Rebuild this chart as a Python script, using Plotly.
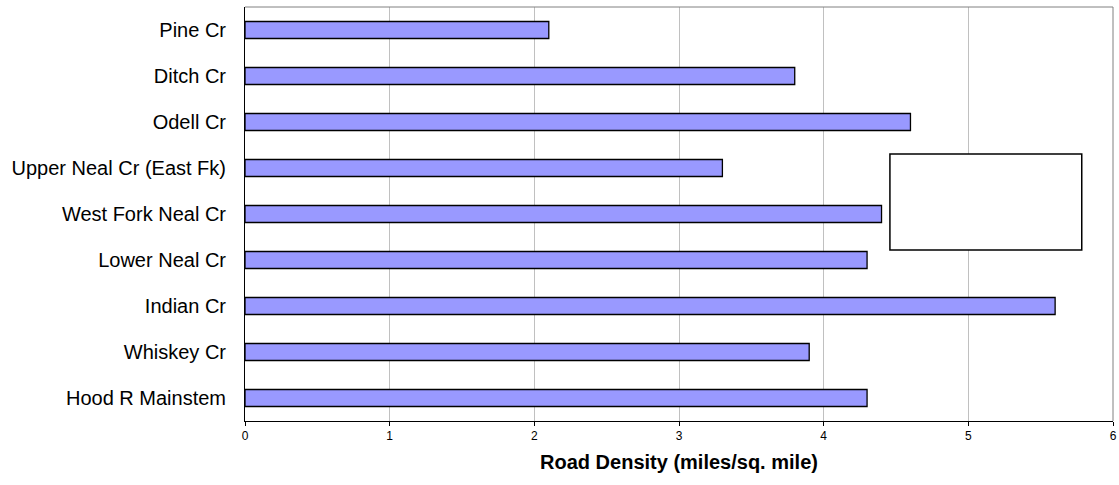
import plotly.graph_objects as go

watersheds = ["Pine Cr", "Ditch Cr", "Odell Cr", "Upper Neal Cr (East Fk)",
              "West Fork Neal Cr", "Lower Neal Cr", "Indian Cr", "Whiskey Cr",
              "Hood R Mainstem"]
road_density = [2.1, 3.8, 4.6, 3.3, 4.4, 4.3, 5.6, 3.9, 4.3]
x_ticks = [0, 1, 2, 3, 4, 5, 6]

fig = go.Figure()
fig.add_trace(go.Bar(
    y=watersheds, x=road_density, orientation="h",
    marker=dict(color="#9999FF", line=dict(color="#000000", width=1.3)),
    showlegend=False,
))

W, H = 1119, 485
L, R, T, B = 245, 6, 7, 64

fig.update_layout(
    width=W, height=H,
    margin=dict(l=L, r=R, t=T, b=B, autoexpand=False),
    paper_bgcolor="white", plot_bgcolor="white",
    bargap=0.63,
    font=dict(family="Liberation Sans, Arial, sans-serif", color="#000000"),
    xaxis=dict(
        range=[0, 6], tickvals=x_ticks, ticktext=[str(t) for t in x_ticks],
        showgrid=True, gridcolor="#C0C0C0", gridwidth=1,
        zeroline=False, showline=True, linecolor="#000000", linewidth=1,
        ticks="outside", ticklen=4, tickcolor="#000000",
        tickfont=dict(size=12),
        title=dict(text="<b>Road Density (miles/sq. mile)</b>",
                   font=dict(size=20), standoff=12),
        automargin=False,
    ),
    yaxis=dict(
        autorange="reversed", categoryorder="array", categoryarray=watersheds,
        showgrid=False, zeroline=False, showline=True, linecolor="#000000",
        linewidth=1, ticks="", tickfont=dict(size=20),
        ticklabelstandoff=14, automargin=False,
    ),
)

# gray top/right plot border
fig.add_shape(type="line", xref="paper", yref="paper", x0=0, x1=1, y0=1, y1=1,
              line=dict(color="#808080", width=1))
fig.add_shape(type="line", xref="paper", yref="paper", x0=1, x1=1, y0=0, y1=1,
              line=dict(color="#808080", width=1))
# empty legend box
fig.add_shape(type="rect", xref="paper", yref="paper",
              x0=0.743, x1=0.964, y0=0.413, y1=0.645,
              line=dict(color="#000000", width=1.5), fillcolor="white")

fig.write_html("out.html",
               config={"displayModeBar": False, "staticPlot": True},
               post_script="document.body.style.margin='0';"
                           "document.body.style.overflow='hidden';")
